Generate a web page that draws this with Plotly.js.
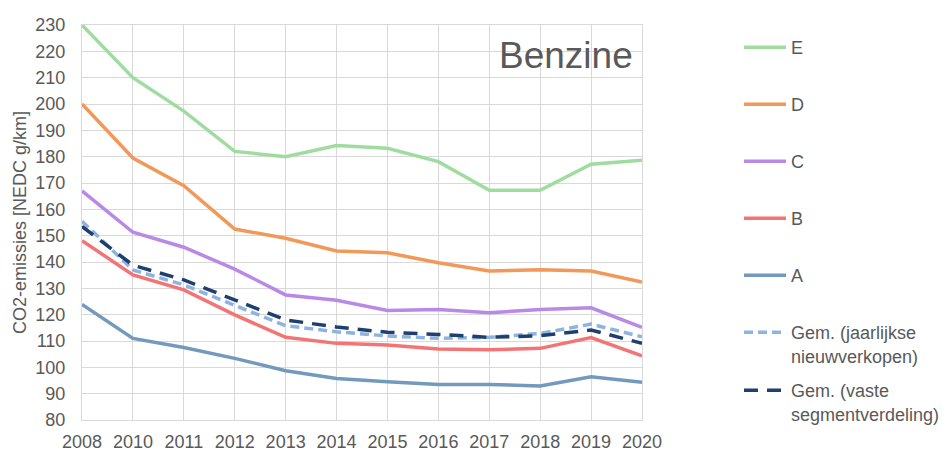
<!DOCTYPE html>
<html>
<head>
<meta charset="utf-8">
<script src="https://cdn.plot.ly/plotly-3.0.1.min.js"></script>
<style>html,body{margin:0;padding:0;background:#fff}#chart{width:947px;height:451px}</style>
</head>
<body>
<div id="chart"></div>
<script>
const years = ['2008','2010','2011','2012','2013','2014','2015','2016','2017','2018','2019','2020'];
const segE = [230, 210, 197.3, 182, 180, 184.2, 183.2, 178.1, 167.2, 167.2, 177.1, 178.6];
const segD = [200, 179.5, 169, 152.5, 149, 144.2, 143.5, 139.7, 136.6, 137.1, 136.6, 132.4];
const segC = [167, 151.3, 145.6, 137.3, 127.5, 125.5, 121.6, 122, 120.7, 122, 122.6, 115.2];
const segB = [148.1, 135.1, 129.4, 119.9, 111.4, 109.1, 108.5, 107, 106.7, 107.2, 111.3, 104.4];
const segA = [123.9, 111, 107.5, 103.4, 98.7, 95.8, 94.5, 93.5, 93.5, 92.9, 96.4, 94.3];
const gemJaar = [155.5, 137, 131.3, 123.7, 115.8, 113.5, 111.9, 111, 111.4, 112.9, 116.4, 111.6];
const gemVast = [153.5, 138.8, 133.2, 125.6, 118, 115.3, 113.3, 112.5, 111.4, 112, 114.2, 109.1];

const names = ['E','D','C','B','A','Gem. (jaarlijkse<br>nieuwverkopen)','Gem. (vaste<br>segmentverdeling)'];
const series = [segE, segD, segC, segB, segA, gemJaar, gemVast];
const colors = ['#a0dca0','#f29858','#b88ae6','#f37474','#7399bd','#8db4e0','#1f3f6f'];
const dashes = ['solid','solid','solid','solid','solid','9px,5px','14px,9px'];
const legendY = [47, 104, 161, 218, 275, 332, 390];

const W = 947, H = 451;
const plotTop = 25, plotBottom = 420, plotH = plotBottom - plotTop;
const traces = series.map((s, i) => ({
  x: years, y: s, type: 'scatter', mode: 'lines', name: names[i],
  line: {color: colors[i], width: 3.5, dash: dashes[i]},
  legend: i === 0 ? 'legend' : 'legend' + (i + 1),
  hoverinfo: 'skip'
}));

const font = {family: 'Liberation Sans, Arial, sans-serif', size: 18, color: '#595959'};
const layout = {
  width: W, height: H,
  margin: {l: 82, r: 305, t: 25, b: 31},
  paper_bgcolor: '#fff', plot_bgcolor: '#fff',
  font: font,
  showlegend: true,
  xaxis: {
    type: 'category', range: [0, 11], showgrid: true, gridcolor: '#d9d9d9', gridwidth: 1,
    showline: true, linecolor: '#d9d9d9', linewidth: 1, mirror: true, automargin: false,
    ticks: '', tickfont: font, zeroline: false, fixedrange: true, ticklabelstandoff: 5
  },
  yaxis: {
    range: [80, 230], dtick: 10, tick0: 80, showgrid: true, gridcolor: '#d9d9d9', gridwidth: 1,
    showline: true, linecolor: '#d9d9d9', linewidth: 1, mirror: true, automargin: false,
    ticks: '', tickfont: font, zeroline: false, fixedrange: true, ticklabelstandoff: 12,
    title: {text: 'CO2-emissies [NEDC g/km]', font: font, standoff: 4}
  },
  annotations: [{
    text: 'Benzine', xref: 'paper', yref: 'paper', x: (635 - 82) / 560, y: (plotBottom - 56) / plotH,
    xanchor: 'right', yanchor: 'middle', showarrow: false,
    font: {family: 'Liberation Sans, Arial, sans-serif', size: 37, color: '#595959'}
  }]
};
legendY.forEach((py, i) => {
  const key = i === 0 ? 'legend' : 'legend' + (i + 1);
  layout[key] = {
    xref: 'container', yref: 'container',
    x: 739 / W, xanchor: 'left',
    y: 1 - (py - 18) / H, yanchor: 'top',
    bgcolor: 'rgba(0,0,0,0)', borderwidth: 0, font: font,
    itemwidth: 42, valign: 'top', itemclick: false, itemdoubleclick: false
  };
});

Plotly.newPlot('chart', traces, layout, {displayModeBar: false, staticPlot: true});
</script>
</body>
</html>
